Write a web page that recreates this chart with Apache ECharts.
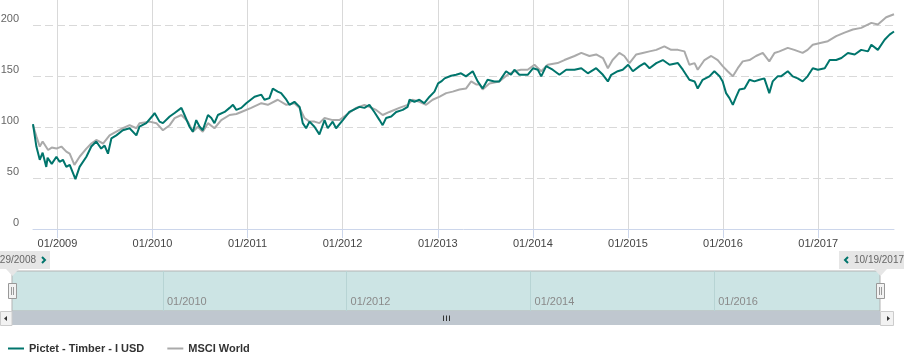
<!DOCTYPE html>
<html><head><meta charset="utf-8">
<script src="https://cdn.jsdelivr.net/npm/echarts@6/dist/echarts.min.js"></script>
<style>html,body{margin:0;padding:0;background:#fff}#c{width:904px;height:355px}</style>
</head><body><div id="c"></div>
<script>
const seriesNames = ['Pictet - Timber - I USD', 'MSCI World'];

const pictetDates = ['2008-09-29','2008-10-12','2008-10-25','2008-11-05','2008-11-19','2008-11-24','2008-12-10','2008-12-28',
'2009-01-09','2009-01-22','2009-02-04','2009-02-17','2009-03-11','2009-03-27','2009-04-22','2009-05-11','2009-05-30','2009-06-18','2009-07-01','2009-07-14','2009-07-27','2009-08-15','2009-09-09','2009-10-05','2009-10-31','2009-11-12','2009-12-08',
'2010-01-04','2010-01-09','2010-01-28','2010-02-10','2010-03-08','2010-03-27','2010-04-22','2010-05-04','2010-05-23','2010-06-05','2010-06-18','2010-07-01','2010-07-13','2010-08-02','2010-08-15','2010-08-27','2010-09-09','2010-10-05','2010-10-24','2010-11-06','2010-11-19','2010-12-08','2010-12-27',
'2011-01-28','2011-02-23','2011-03-07','2011-03-26','2011-04-08','2011-04-27','2011-05-10','2011-05-30','2011-06-11','2011-06-30','2011-07-20','2011-08-01','2011-08-14','2011-08-27','2011-09-15','2011-10-04','2011-10-24','2011-11-05','2011-11-24','2011-12-07',
'2012-01-02','2012-01-27','2012-03-06','2012-03-25','2012-04-13','2012-05-02','2012-05-22','2012-06-03','2012-06-16','2012-07-06','2012-07-25','2012-08-19','2012-09-07','2012-09-14','2012-10-03','2012-10-22','2012-11-10','2012-11-30','2012-12-19',
'2013-01-02','2013-01-14','2013-01-27','2013-02-21','2013-03-12','2013-03-31','2013-04-19','2013-05-15','2013-06-03','2013-06-22','2013-07-11','2013-08-06','2013-08-25','2013-09-20','2013-10-09','2013-10-22','2013-11-10','2013-12-12',
'2014-01-02','2014-01-20','2014-02-02','2014-02-21','2014-03-18','2014-04-13','2014-05-09','2014-06-10','2014-07-06','2014-07-31','2014-09-01','2014-09-27','2014-10-16','2014-10-29','2014-11-23','2014-12-12',
'2015-01-02','2015-01-20','2015-02-15','2015-03-06','2015-03-25','2015-04-20','2015-05-15','2015-06-10','2015-07-12','2015-07-31','2015-08-25','2015-09-14','2015-09-26','2015-10-15','2015-11-10','2015-11-29','2015-12-19','2015-12-31',
'2016-01-13','2016-01-26','2016-02-08','2016-02-21','2016-03-04','2016-03-24','2016-04-12','2016-05-01','2016-05-20','2016-06-08','2016-06-27','2016-07-10','2016-07-29','2016-08-11','2016-09-06','2016-09-25','2016-10-14','2016-11-02','2016-11-21','2016-12-11','2016-12-31',
'2017-01-26','2017-02-14','2017-03-11','2017-03-31','2017-04-25','2017-05-21','2017-06-15','2017-07-11','2017-07-24','2017-08-18','2017-09-13','2017-10-02','2017-10-19'];
const pictetValues = [103,81,68,75,61,70,64,71,
66,68,61,63,49,61,71,81,86,79,82,74,89,92,97,99,92,100.5,104,
112,114,105.5,104,110.5,114,119,112,100.5,95.6,107,100.5,97,112,109,104,112,115,119,122,117,119,123.6,
130,132,127,128.6,138,135,133.5,127,122,125,120,104,99,105.5,100.5,93,107,99,105.5,99,
107,115,120,119,122,115,107,102,109,110.5,115,117,120,127,125,127,123.6,130,135,
143,145,148,150.6,151.5,153,150,155,145,138,146.6,145,145,155,151.5,156.5,151.5,151.5,
158,156.5,150,160,156.5,151.5,156.5,156.5,158,153,158,151.5,145,151.5,155,156.5,
161.4,155,160,163,158,163,166,161.4,163,156.5,146.6,145,138,146.6,150,155,150,145,
133.5,128.6,122,130,137,138,146.6,145,146.6,148,133.5,145,150,150,155,150,148,145,150,158,156.5,
158,166,166,168,173,171.5,176,174.5,181,176,186,191,194];

const msciDates = ['2008-09-29','2008-10-12','2008-10-25','2008-11-05','2008-11-26','2008-12-10','2008-12-28',
'2009-01-16','2009-02-04','2009-02-17','2009-03-07','2009-03-27','2009-04-22','2009-05-11','2009-05-30','2009-06-25','2009-07-20','2009-08-15','2009-09-09','2009-10-05','2009-10-31','2009-11-12','2009-12-21',
'2010-01-16','2010-02-10','2010-03-08','2010-03-27','2010-04-22','2010-05-17','2010-06-05','2010-06-24','2010-07-13','2010-08-02','2010-08-27','2010-09-22','2010-10-24','2010-11-19','2010-12-08',
'2011-01-15','2011-02-23','2011-03-20','2011-04-27','2011-05-30','2011-06-30','2011-07-20','2011-08-08','2011-08-27','2011-09-15','2011-10-04','2011-10-24','2011-11-24','2011-12-20',
'2012-01-15','2012-02-22','2012-03-25','2012-04-13','2012-05-09','2012-06-03','2012-06-29','2012-08-06','2012-09-07','2012-09-26','2012-10-22','2012-11-17','2012-12-12',
'2013-01-08','2013-02-02','2013-02-27','2013-03-25','2013-04-19','2013-05-09','2013-05-28','2013-06-10','2013-06-22','2013-07-18','2013-08-25','2013-09-26','2013-10-22','2013-11-16','2013-12-12',
'2014-01-07','2014-02-02','2014-02-27','2014-04-06','2014-05-02','2014-06-10','2014-07-06','2014-08-06','2014-09-01','2014-09-27','2014-10-16','2014-11-03','2014-11-29','2014-12-18',
'2015-01-07','2015-02-02','2015-02-27','2015-03-25','2015-04-20','2015-05-21','2015-06-16','2015-07-12','2015-08-06','2015-08-25','2015-09-14','2015-09-26','2015-10-22','2015-11-17','2015-12-12','2015-12-31',
'2016-01-19','2016-02-08','2016-02-27','2016-03-17','2016-04-12','2016-05-07','2016-06-02','2016-06-27','2016-07-17','2016-08-05','2016-09-06','2016-10-01','2016-11-02','2016-11-21','2016-12-11',
'2017-01-13','2017-02-07','2017-03-11','2017-04-12','2017-05-14','2017-06-15','2017-07-24','2017-08-18','2017-09-19','2017-10-19'];
const msciValues = [102,91,81,86,77.6,80,79,
81,76,74,63,71,79,84,87.5,84,92,95.6,99,102,99,104,105.5,
104,97,102,109,112,105.5,95.6,100.5,95.6,104,99,107,112,113,115,
119,123.6,122,127,122,123.6,119,109,105.5,105.5,104,109,107,107,
112,119,122,120,117,112,115,119,122,127,125,122,127,
130,133.5,135,137,138,145,142,142,137,143,145,151.5,155,156.5,156.5,
161.4,155,161.4,163,166,170,173,170,171.5,168,158,166,173,170,
163,171.5,173,174.5,176,179.5,176,176,174.5,161.4,163,156.5,166,170,166,160,
155,150,158,164.7,166,170,173,164.7,173,174.5,178,176,173,176,181,
183,184.5,189.5,193,196,197.6,202.5,201,208,211];

const yTicks = [0, 50, 100, 150, 200];
const yMax = 225;
const xTickLabels = ['01/2009','01/2010','01/2011','01/2012','01/2013','01/2014','01/2015','01/2016','01/2017'];
const navTickLabels = ['01/2010','01/2012','01/2014','01/2016'];
const navStart = '2008-05-11';
const navEnd = '2017-10-21';

const pad = n => (n < 10 ? '0' : '') + n;
const toTs = s => { const p = s.split('-').map(Number); return Date.UTC(p[0], p[1] - 1, p[2]); };
const labelTs = l => { const p = l.split('/').map(Number); return Date.UTC(p[1], p[0] - 1, 1); };
const fmtMY = v => { const d = new Date(v); return pad(d.getUTCMonth() + 1) + '/' + d.getUTCFullYear(); };
const fmtMDY = v => { const d = new Date(v); return pad(d.getUTCMonth() + 1) + '/' + pad(d.getUTCDate()) + '/' + d.getUTCFullYear(); };

const xTickTs = xTickLabels.map(labelTs);
const navTickTs = navTickLabels.map(labelTs);
const pictetData = pictetDates.map((d, i) => [toTs(d), pictetValues[i]]);
const msciData = msciDates.map((d, i) => [toTs(d), msciValues[i]]);
const startTs = toTs(pictetDates[0]);
const endTs = toTs(pictetDates[pictetDates.length - 1]);

const TEAL = '#00756c';
const GREY = '#aaaaaa';
const FONT = '"Liberation Sans", Arial, sans-serif';

const chart = echarts.init(document.getElementById('c'), null, { renderer: 'canvas' });
chart.setOption({
  animation: false,
  textStyle: { fontFamily: FONT },
  grid: [
    { left: 33, right: 10, top: 0, height: 229, outerBoundsMode: 'none' },
    { left: 12, right: 24, top: 271, height: 40, show: true, backgroundColor: '#cce4e4', borderColor: '#b3b3b3', borderWidth: 1, outerBoundsMode: 'none' }
  ],
  xAxis: [
    {
      type: 'value', gridIndex: 0, min: startTs, max: endTs, scale: true,
      axisLine: { show: true, lineStyle: { color: '#ccd6eb', width: 1 } },
      axisTick: { show: true, customValues: xTickTs, length: 9, lineStyle: { color: '#ccd6eb' } },
      axisLabel: { customValues: xTickTs, formatter: v => fmtMY(v), color: '#444', fontSize: 11, margin: 9, fontFamily: FONT },
      splitLine: { show: true, lineStyle: { color: '#d9d9d9', width: 1 } }
    },
    {
      type: 'value', gridIndex: 1, min: toTs(navStart), max: toTs(navEnd), scale: true,
      axisLine: { show: false },
      axisTick: { show: false, customValues: navTickTs },
      axisLabel: { customValues: navTickTs, inside: true, formatter: v => fmtMY(v), color: '#8a8a8a', fontSize: 11, align: 'left', margin: 4, padding: [0, 0, 0, 4], fontFamily: FONT },
      splitLine: { show: true, lineStyle: { color: '#b7d4d4', width: 1 } }
    }
  ],
  yAxis: [
    {
      type: 'value', gridIndex: 0, min: 0, max: yMax,
      axisLine: { show: false },
      axisTick: { show: false, customValues: yTicks },
      axisLabel: { customValues: yTicks, color: '#666', fontSize: 11, verticalAlign: 'bottom', margin: 14, padding: [0, 0, 1, 0], fontFamily: FONT },
      splitLine: { show: true, lineStyle: { color: '#d9d9d9', type: [8, 4], width: 1 } }
    },
    { type: 'value', gridIndex: 1, min: 0, max: 1, show: false, splitLine: { show: false } }
  ],
  legend: {
    data: seriesNames, left: 8, top: 343, padding: 0, icon: 'rect', itemWidth: 16, itemHeight: 2, itemGap: 23,
    textStyle: { fontSize: 11, fontWeight: 'bold', color: '#333', fontFamily: FONT }
  },
  series: [
    { name: seriesNames[1], type: 'line', xAxisIndex: 0, yAxisIndex: 0, data: msciData, showSymbol: false, lineStyle: { color: GREY, width: 2 }, itemStyle: { color: GREY }, z: 2 },
    { name: seriesNames[0], type: 'line', xAxisIndex: 0, yAxisIndex: 0, data: pictetData, showSymbol: false, lineStyle: { color: TEAL, width: 2 }, itemStyle: { color: TEAL }, z: 3 }
  ],
  graphic: [
    { type: 'rect', shape: { x: 12, y: 311, width: 868, height: 14 }, style: { fill: '#bfc7cf' }, z: 10 },
    { type: 'line', shape: { x1: 443.5, y1: 315.5, x2: 443.5, y2: 321 }, style: { stroke: '#333', lineWidth: 1 }, z: 11 },
    { type: 'line', shape: { x1: 446.5, y1: 315.5, x2: 446.5, y2: 321 }, style: { stroke: '#333', lineWidth: 1 }, z: 11 },
    { type: 'line', shape: { x1: 449.5, y1: 315.5, x2: 449.5, y2: 321 }, style: { stroke: '#333', lineWidth: 1 }, z: 11 },
    { type: 'rect', shape: { x: 0.5, y: 311.5, width: 11.5, height: 14 }, style: { fill: '#f2f2f2', stroke: '#cccccc' }, z: 10 },
    { type: 'polygon', shape: { points: [[4, 318.5], [7, 316], [7, 321]] }, style: { fill: '#333' }, z: 11 },
    { type: 'rect', shape: { x: 880.5, y: 311.5, width: 13, height: 14 }, style: { fill: '#f2f2f2', stroke: '#cccccc' }, z: 10 },
    { type: 'polygon', shape: { points: [[890, 318.5], [887, 316], [887, 321]] }, style: { fill: '#333' }, z: 11 },
    { type: 'rect', shape: { x: 8.5, y: 283.5, width: 8, height: 15 }, style: { fill: '#f2f2f2', stroke: '#999' }, z: 12 },
    { type: 'line', shape: { x1: 11.5, y1: 287, x2: 11.5, y2: 295 }, style: { stroke: '#999' }, z: 13 },
    { type: 'line', shape: { x1: 13.5, y1: 287, x2: 13.5, y2: 295 }, style: { stroke: '#999' }, z: 13 },
    { type: 'rect', shape: { x: 876.5, y: 283.5, width: 8, height: 15 }, style: { fill: '#f2f2f2', stroke: '#999' }, z: 12 },
    { type: 'line', shape: { x1: 879.5, y1: 287, x2: 879.5, y2: 295 }, style: { stroke: '#999' }, z: 13 },
    { type: 'line', shape: { x1: 881.5, y1: 287, x2: 881.5, y2: 295 }, style: { stroke: '#999' }, z: 13 },
    { type: 'rect', shape: { x: -30, y: 251, width: 80, height: 18 }, style: { fill: '#e6e6e6' }, z: 12 },
    { type: 'polygon', shape: { points: [[6, 269], [19, 269], [12.5, 276]] }, style: { fill: '#e6e6e6' }, z: 12 },
    { type: 'text', style: { text: fmtMDY(startTs), x: 36, y: 260, align: 'right', verticalAlign: 'middle', fill: '#666', font: '10px ' + FONT }, z: 13 },
    { type: 'polyline', shape: { points: [[42, 257], [45, 260], [42, 263]] }, style: { stroke: TEAL, lineWidth: 2, fill: null }, z: 13 },
    { type: 'rect', shape: { x: 839, y: 251, width: 80, height: 18 }, style: { fill: '#e6e6e6' }, z: 12 },
    { type: 'polygon', shape: { points: [[874, 269], [887, 269], [880.5, 276]] }, style: { fill: '#e6e6e6' }, z: 12 },
    { type: 'polyline', shape: { points: [[848, 257], [845, 260], [848, 263]] }, style: { stroke: TEAL, lineWidth: 2, fill: null }, z: 13 },
    { type: 'text', style: { text: fmtMDY(endTs), x: 854, y: 260, align: 'left', verticalAlign: 'middle', fill: '#666', font: '10px ' + FONT }, z: 13 }
  ]
});
</script>
</body></html>
